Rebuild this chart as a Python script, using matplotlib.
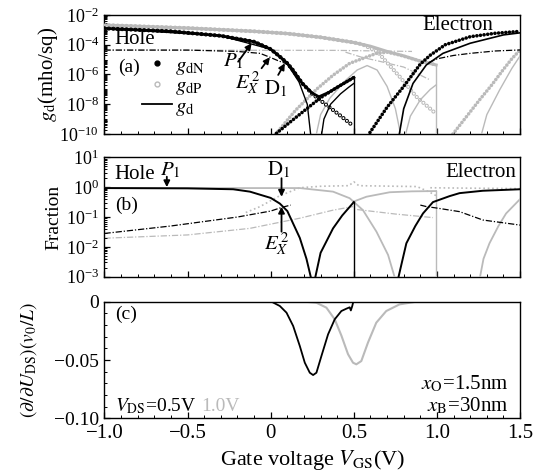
import numpy as np
import matplotlib
matplotlib.use('Agg')
import matplotlib.pyplot as plt
from matplotlib.ticker import MultipleLocator, LogLocator, NullFormatter, FuncFormatter, FixedLocator
from matplotlib.lines import Line2D

plt.rcParams['font.family'] = 'Liberation Serif'
plt.rcParams['mathtext.fontset'] = 'stix'
plt.rcParams['axes.linewidth'] = 1.0

GREY = '#bababa'

# ---------------- (a) conductance, values are log10(g) ----------------
# VDS = 0.5 V (black)
x_gd05 = [-1.0, -0.6, -0.3, -0.1, 0.0, 0.055, 0.1, 0.133, 0.19, 0.25, 0.29, 0.35, 0.4, 0.5]
lg_gd05 = [-2.9, -3.1, -3.4, -3.8, -4.3, -4.8, -5.25, -5.7, -6.6, -7.25, -7.5, -7.2, -6.86, -6.2]
x_dN05a = [0.035, 0.1, 0.2, 0.3, 0.4, 0.5]
lg_dN05a = [-9.95, -9.35, -8.45, -7.56, -6.86, -6.2]
x_dN05b = [0.597, 0.7, 0.8, 0.9, 0.96, 1.05, 1.2, 1.35, 1.5]
lg_dN05b = [-9.9, -8.2, -6.8, -5.3, -4.7, -4.0, -3.46, -3.23, -3.1]
x_dP05 = [-1.0, -0.6, -0.3, -0.1, 0.0, 0.055, 0.1, 0.133, 0.19, 0.25, 0.3, 0.4, 0.49]
lg_dP05 = [-2.9, -3.1, -3.4, -3.8, -4.3, -4.8, -5.25, -5.7, -6.6, -7.3, -7.75, -8.6, -9.4]
x_thin05a = [-1.0, -0.3, 0.0, 0.1, 0.17, 0.22, 0.245]
lg_thin05a = [-2.9, -3.4, -4.3, -5.3, -6.5, -8.0, -10.5]
x_thin05b = [0.30, 0.32, 0.36, 0.42, 0.47, 0.5]
lg_thin05b = [-10.5, -9.0, -8.0, -7.3, -6.85, -6.6]
x_step05 = [0.5, 0.5]
lg_step05 = [-6.2, -10.5]
x_thin05c = [0.766, 0.8, 0.856, 0.936, 1.036, 1.2, 1.4, 1.5]
lg_thin05c = [-10.5, -8.3, -6.6, -5.36, -4.58, -3.9, -3.34, -3.2]
x_ex05a = [-1.0, -0.5, -0.2, -0.064, -0.005, 0.05, 0.1]
lg_ex05a = [-4.36, -4.36, -4.45, -4.58, -4.84, -5.1, -5.3]
x_ex05b = [0.95, 1.0, 1.1, 1.2, 1.35, 1.5]
lg_ex05b = [-5.2, -4.95, -4.72, -4.58, -4.42, -4.35]

# VDS = 1.0 V (grey)
x_gd10 = [-1.0, -0.5, -0.1, 0.1, 0.3, 0.5, 0.6, 0.7, 0.8, 0.9, 0.995]
lg_gd10 = [-2.68, -2.88, -3.1, -3.25, -3.5, -3.85, -4.1, -4.45, -4.75, -5.1, -5.36]
x_dN10a = [0.03, 0.15, 0.275, 0.375, 0.475, 0.636, 0.7, 0.776, 0.9, 0.995]
lg_dN10a = [-10.0, -8.4, -7.0, -6.05, -5.25, -4.58, -4.5, -4.69, -5.1, -5.36]
x_dN10b = [1.096, 1.18, 1.256, 1.33, 1.397, 1.45, 1.5]
lg_dN10b = [-10.0, -8.8, -7.71, -6.7, -5.7, -4.95, -4.35]
x_dP10 = [-1.0, -0.5, -0.1, 0.1, 0.3, 0.5, 0.55, 0.64, 0.7, 0.776, 0.876, 0.99]
lg_dP10 = [-2.68, -2.88, -3.1, -3.25, -3.5, -3.85, -3.97, -4.45, -5.2, -6.15, -7.49, -8.6]
x_step10 = [0.995, 0.995]
lg_step10 = [-5.36, -10.5]
x_arch10 = [0.265, 0.3, 0.355, 0.45, 0.52, 0.58, 0.64, 0.7, 0.75, 0.79]
lg_arch10 = [-10.5, -8.7, -7.6, -6.4, -5.7, -5.4, -5.7, -6.8, -8.3, -10.5]
x_thin10b = [0.8, 0.84, 0.9, 0.96, 0.995]
lg_thin10b = [-10.5, -8.8, -7.7, -7.0, -6.7]
x_thin10c = [1.256, 1.3, 1.377, 1.45, 1.5]
lg_thin10c = [-10.5, -8.7, -7.04, -5.6, -4.75]
x_ex10a = [-1.0, 0.4, 0.85]
lg_ex10a = [-4.36, -4.38, -4.45]
x_ex10b = [0.45, 0.55, 0.65, 0.8, 0.96]
lg_ex10b = [-4.5, -4.85, -5.1, -5.5, -6.37]

# ---------------- (b) fractions, log10 values ----------------
x_fh05 = [-1.0, -0.5, -0.226, -0.125, 0.0, 0.055, 0.1, 0.175, 0.215, 0.245]
lg_fh05 = [-0.03, -0.04, -0.07, -0.15, -0.36, -0.55, -0.8, -1.7, -2.4, -3.1]
x_fe05a = [0.265, 0.3, 0.375, 0.43, 0.5]
lg_fe05a = [-3.1, -2.2, -1.38, -0.95, -0.5]
x_fstep05 = [0.5, 0.5]
lg_fstep05 = [-0.5, -3.1]
x_fe05b = [0.765, 0.79, 0.816, 0.87, 0.916, 0.976, 1.076, 1.136, 1.276, 1.5]
lg_fe05b = [-3.1, -2.5, -1.88, -1.3, -0.88, -0.5, -0.3, -0.2, -0.12, -0.07]
x_fx05a = [-1.0, -0.6, -0.4, -0.2, 0.0, 0.065, 0.12]
lg_fx05a = [-1.55, -1.3, -1.15, -1.0, -0.8, -0.68, -0.6]
x_fx05b = [0.9, 0.936, 1.0, 1.136, 1.276, 1.5]
lg_fx05b = [-0.6, -0.65, -0.7, -0.82, -1.1, -1.27]
x_fd05 = [-0.15, -0.064, 0.05, 0.175, 0.3, 0.47, 0.5, 0.53, 0.88, 0.95, 1.0]
lg_fd05 = [-0.85, -0.65, -0.3, -0.02, 0.03, 0.05, 0.18, 0.05, 0.02, -0.15, -0.3]

x_fh10 = [-1.0, 0.175, 0.375, 0.475, 0.555, 0.636, 0.706, 0.75]
lg_fh10 = [-0.03, -0.03, -0.15, -0.37, -0.77, -1.49, -2.27, -3.1]
x_fe10a = [0.495, 0.576, 0.716, 0.85, 0.995]
lg_fe10a = [-0.49, -0.32, -0.17, -0.14, -0.13]
x_fstep10 = [0.995, 0.995]
lg_fstep10 = [-0.13, -3.1]
x_fe10b = [1.256, 1.28, 1.316, 1.37, 1.416, 1.5]
lg_fe10b = [-3.1, -2.4, -1.88, -1.3, -0.88, -0.4]
x_fx10a = [-1.0, -0.5, -0.125, 0.175, 0.375, 0.495]
lg_fx10a = [-1.71, -1.6, -1.38, -1.04, -0.77, -0.65]
x_fx10b = [0.52, 0.75, 0.976]
lg_fx10b = [-0.75, -0.9, -1.02]
x_fd10 = [0.96, 1.136, 1.5]
lg_fd10 = [-0.02, -0.03, -0.05]

# ---------------- (c) derivative ----------------
x_c05 = [0.005, 0.055, 0.095, 0.135, 0.175, 0.205, 0.235, 0.255, 0.275, 0.305, 0.345,
         0.385, 0.425, 0.455, 0.475, 0.482, 0.49, 0.497]
y_c05 = [0.0, -0.0037, -0.0094, -0.0208, -0.038, -0.0523, -0.0609, -0.0629, -0.0609, -0.0466,
         -0.028, -0.0151, -0.008, -0.006, -0.0048, -0.0075, -0.004, 0.0]
x_c10 = [0.205, 0.275, 0.335, 0.385, 0.425, 0.465, 0.495, 0.515, 0.545, 0.585, 0.635,
         0.695, 0.775, 0.875, 1.0]
y_c10 = [0.0, -0.0009, -0.0051, -0.0151, -0.029, -0.045, -0.0523, -0.0537, -0.0509, -0.0351,
         -0.018, -0.008, -0.0023, 0.0, 0.0]


def lin(lg):
    return 10.0 ** np.array(lg)


def dots(ax, x, lg, color, lw=2.6, gap=1.0, z=2):
    ax.plot(x, lin(lg), color=color, lw=lw, ls=(0, (0.01, gap)),
            dash_capstyle='round', zorder=z)


def rings(ax, x, lg, color, lw=3.0, gap=1.05, inner=1.5, z=2):
    ax.plot(x, lin(lg), color=color, lw=lw, ls=(0, (0.01, gap)),
            dash_capstyle='round', zorder=z)
    k = lw / inner
    ax.plot(x, lin(lg), color='white', lw=inner, ls=(0, (0.01 * k, gap * k)),
            dash_capstyle='round', zorder=z)


def line(ax, x, lg, color, lw=1.0, ls='-', z=3):
    ax.plot(x, lin(lg), color=color, lw=lw, ls=ls, zorder=z)


DASHDOT = (0, (5, 1.5, 1, 1.5))

fig = plt.figure(figsize=(5.49, 4.74), dpi=100)
L, W = 0.1903, 0.757
ax = fig.add_axes([L, 0.7173, W, 0.2511])
bx = fig.add_axes([L, 0.4162, W, 0.2519])
cx = fig.add_axes([L, 0.1175, W, 0.246])

# ---- panel a ----
ax.set_yscale('log')
line(ax, x_ex10a, lg_ex10a, GREY, 0.9, DASHDOT, 1)
line(ax, x_ex10b, lg_ex10b, GREY, 0.9, DASHDOT, 1)
line(ax, x_arch10, lg_arch10, GREY, 1.0)
line(ax, x_thin10b, lg_thin10b, GREY, 1.0)
line(ax, x_thin10c, lg_thin10c, GREY, 1.0)
line(ax, x_step10, lg_step10, GREY, 1.0)
rings(ax, x_dP10, lg_dP10, GREY)
dots(ax, x_dN10a, lg_dN10a, GREY)
dots(ax, x_dN10b, lg_dN10b, GREY)
line(ax, x_gd10, lg_gd10, GREY, 2.2)

line(ax, x_ex05a, lg_ex05a, 'k', 0.9, DASHDOT, 4)
line(ax, x_ex05b, lg_ex05b, 'k', 0.9, DASHDOT, 4)
rings(ax, x_dP05, lg_dP05, 'k', z=4)
dots(ax, x_dN05a, lg_dN05a, 'k', z=4)
dots(ax, x_dN05b, lg_dN05b, 'k', z=4)
line(ax, x_thin05a, lg_thin05a, 'k', 1.0, z=5)
line(ax, x_thin05b, lg_thin05b, 'k', 1.0, z=5)
line(ax, x_step05, lg_step05, 'k', 1.0, z=5)
line(ax, x_thin05c, lg_thin05c, 'k', 1.2, z=5)
line(ax, x_gd05, lg_gd05, 'k', 2.0, z=5)

ax.set_ylim(1e-10, 1e-2)
ax.yaxis.set_major_locator(FixedLocator([1e-10, 1e-8, 1e-6, 1e-4, 1e-2]))
ax.yaxis.set_minor_locator(LogLocator(base=10.0, subs=np.arange(1, 10) * 1.0, numticks=100))
ax.yaxis.set_minor_formatter(NullFormatter())
ax.set_ylabel(r'$g_{\rm d}$(mho/sq)', fontsize=15)
ax.yaxis.set_label_coords(-0.107, 0.5)

ax.text(0.025, 0.79, 'Hole', transform=ax.transAxes, fontsize=15, va='center')
ax.text(0.935, 0.91, 'Electron', transform=ax.transAxes, fontsize=15, va='center', ha='right')
ax.text(0.032, 0.563, '(a)', transform=ax.transAxes, fontsize=14, va='center')

handles = [Line2D([], [], ls='none', marker='o', ms=3.5, mfc='k', mec='k'),
           Line2D([], [], ls='none', marker='o', ms=3.5, mfc='white', mec=GREY, mew=1.0),
           Line2D([], [], color='k', lw=1.3)]
ax.legend(handles, [r'$g_{\rm dN}$', r'$g_{\rm dP}$', r'$g_{\rm d}$'], loc='upper left',
          bbox_to_anchor=(0.09, 0.655), frameon=False, fontsize=15, handlelength=1.45,
          handletextpad=0.15, labelspacing=0.0, borderpad=0, borderaxespad=0)

arrow = dict(arrowstyle='-|>', color='k', lw=1.3, mutation_scale=9, shrinkA=0, shrinkB=0)
ax.annotate('', xy=(-0.115, 10**-3.9), xytext=(-0.196, 10**-5.14), arrowprops=arrow, zorder=6)
ax.text(-0.227, 10**-5.1, r'$P_1$', fontsize=15, ha='center', va='center')
ax.annotate('', xy=(-0.005, 10**-4.84), xytext=(-0.055, 10**-5.58), arrowprops=arrow, zorder=6)
ax.text(-0.135, 10**-6.55, r'$E_X^{\,2}$', fontsize=15, ha='center', va='center')
ax.annotate('', xy=(0.085, 10**-5.25), xytext=(0.045, 10**-6.03), arrowprops=arrow, zorder=6)
ax.text(0.03, 10**-6.94, r'$\mathrm{D}_1$', fontsize=15, ha='center', va='center')

# ---- panel b ----
bx.set_yscale('log')
line(bx, x_fd05, lg_fd05, GREY, 1.2, ':', 1)
line(bx, x_fd10, lg_fd10, GREY, 1.2, ':', 1)
line(bx, x_fx10a, lg_fx10a, GREY, 0.9, DASHDOT, 1)
line(bx, x_fx10b, lg_fx10b, GREY, 0.9, DASHDOT, 1)
line(bx, x_fh10, lg_fh10, GREY, 1.3)
line(bx, x_fe10a, lg_fe10a, GREY, 1.3)
line(bx, x_fstep10, lg_fstep10, GREY, 1.0)
line(bx, x_fe10b, lg_fe10b, GREY, 1.3)
line(bx, x_fx05a, lg_fx05a, 'k', 0.9, DASHDOT, 4)
line(bx, x_fx05b, lg_fx05b, 'k', 0.9, DASHDOT, 4)
line(bx, x_fh05, lg_fh05, 'k', 1.4, z=5)
line(bx, x_fe05a, lg_fe05a, 'k', 1.4, z=5)
line(bx, x_fstep05, lg_fstep05, 'k', 1.0, z=5)
line(bx, x_fe05b, lg_fe05b, 'k', 1.4, z=5)

bx.set_ylim(1e-3, 1e1)
bx.yaxis.set_major_locator(LogLocator(base=10.0, numticks=10))
bx.yaxis.set_minor_locator(LogLocator(base=10.0, subs=np.arange(2, 10) * 1.0, numticks=100))
bx.yaxis.set_minor_formatter(NullFormatter())
bx.set_ylabel('Fraction', fontsize=14)
bx.yaxis.set_label_coords(-0.102, 0.5)

bx.text(0.025, 0.86, 'Hole', transform=bx.transAxes, fontsize=15, va='center')
bx.text(0.992, 0.877, 'Electron', transform=bx.transAxes, fontsize=15, va='center', ha='right')
bx.text(0.025, 0.60, '(b)', transform=bx.transAxes, fontsize=14, va='center')
bx.annotate('', xy=(-0.625, 10**0.0), xytext=(-0.625, 10**0.35), arrowprops=arrow, zorder=6)
bx.text(-0.605, 10**0.56, r'$P_1$', fontsize=15, ha='center', va='center')
bx.annotate('', xy=(0.065, 10**-0.32), xytext=(0.065, 10**0.3), arrowprops=arrow, zorder=6)
bx.text(0.049, 10**0.575, r'$\mathrm{D}_1$', fontsize=15, ha='center', va='center')
bx.annotate('', xy=(0.065, 10**-0.655), xytext=(0.065, 10**-1.49), arrowprops=arrow, zorder=6)
bx.text(0.037, 10**-1.9, r'$E_X^{\,2}$', fontsize=15, ha='center', va='center')

# ---- panel c ----
cx.plot(x_c10, y_c10, color=GREY, lw=1.5)
cx.plot(x_c05, y_c05, color='k', lw=1.3)
cx.set_ylim(-0.1, 0)
cx.yaxis.set_major_locator(MultipleLocator(0.05))
cx.yaxis.set_minor_locator(MultipleLocator(0.01))
cx.yaxis.set_major_formatter(FuncFormatter(lambda v, p: '0' if abs(v) < 1e-9 else ('%.2f' % v).replace('-', '\u2212')))
cx.set_ylabel(r'$(\partial/\partial U_{\rm DS})(v_0/L)$', fontsize=14)
cx.yaxis.set_label_coords(-0.158, 0.5)
cx.set_xlabel(r'Gate voltage $V_{\rm GS}$(V)', fontsize=16)
cx.text(0.025, 0.89, '(c)', transform=cx.transAxes, fontsize=14, va='center')
cx.text(0.025, 0.105, r'$V_{\rm DS}$=0.5V', transform=cx.transAxes, fontsize=14, va='center')
cx.text(0.232, 0.105, '1.0V', transform=cx.transAxes, fontsize=14, va='center', color=GREY)
cx.text(0.971, 0.295, r'$x_{\rm O}$=1.5nm', transform=cx.transAxes, fontsize=15, va='center', ha='right')
cx.text(0.971, 0.105, r'$x_{\rm B}$=30nm', transform=cx.transAxes, fontsize=15, va='center', ha='right')
cx.xaxis.set_major_formatter(FuncFormatter(lambda v, p: '0' if abs(v) < 1e-9 else ('%.1f' % v).replace('-', '\u2212')))

for a in (ax, bx, cx):
    a.set_xlim(-1.0, 1.5)
    a.xaxis.set_major_locator(MultipleLocator(0.5))
    a.xaxis.set_minor_locator(MultipleLocator(0.1))
    a.tick_params(which='both', direction='in', top=False, right=False)
    a.tick_params(which='major', length=4, width=0.9, pad=4)
    a.tick_params(which='minor', length=2, width=0.7)
    a.tick_params(axis='y', labelsize=13)
for a in (ax, bx):
    a.tick_params(axis='x', labelbottom=False)
cx.tick_params(axis='x', labelsize=15)
cx.tick_params(axis='y', labelsize=14)

fig.savefig('out.png', dpi=100)
